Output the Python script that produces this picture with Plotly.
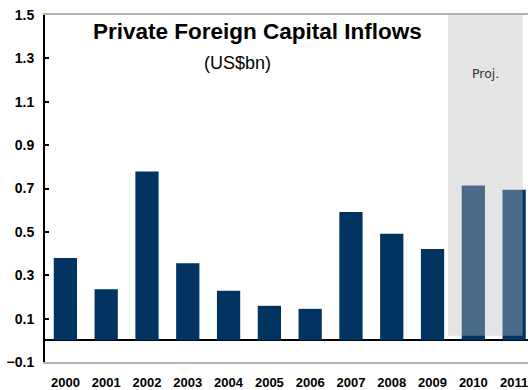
import plotly.graph_objects as go

# Private foreign capital inflows, US$bn (2010-2011 are projections)
years = [2000, 2001, 2002, 2003, 2004, 2005, 2006, 2007, 2008, 2009, 2010, 2011]
inflows = [0.38, 0.236, 0.778, 0.355, 0.229, 0.159, 0.145, 0.592, 0.491, 0.421, 0.714, 0.694]
y_ticks = [-0.1, 0.1, 0.3, 0.5, 0.7, 0.9, 1.1, 1.3, 1.5]
tick_labels = [str(y) for y in years]

NAVY = "#00335f"
SHADE = "#e5e5e5"
FONT = "Liberation Sans, Arial, sans-serif"

fig = go.Figure()
fig.add_trace(go.Bar(
    x=years, y=inflows, width=0.57,
    marker=dict(color=NAVY, line=dict(width=0)),
))

# projection band: solid gray behind, translucent veil over the bars
proj = dict(type="rect", xref="x", yref="y", x0=2009.38, x1=2011.21, y0=0.021, y1=1.5, line=dict(width=0))
fig.add_shape(**proj, fillcolor=SHADE, layer="below")
fig.add_shape(**proj, fillcolor="rgba(229,229,229,0.32)", layer="above")

fig.add_annotation(text="<b>Private Foreign Capital Inflows</b>", xref="paper", yref="paper",
                   x=0.439, y=0.952, showarrow=False, xanchor="center", yanchor="middle",
                   font=dict(family=FONT, size=22.5, color="#000"))
fig.add_annotation(text="(US$bn)", xref="paper", yref="paper",
                   x=0.3986, y=0.862, showarrow=False, xanchor="center", yanchor="middle",
                   font=dict(family=FONT, size=18, color="#000"))
fig.add_annotation(text="Proj.", xref="paper", yref="paper",
                   x=0.913, y=0.830, showarrow=False, xanchor="center", yanchor="middle",
                   font=dict(family="DejaVu Sans, Verdana, sans-serif", size=12.5, color="#333"))

fig.update_layout(
    width=528, height=390,
    margin=dict(l=45, r=0, t=15, b=28),
    paper_bgcolor="white", plot_bgcolor="white",
    showlegend=False,
    xaxis=dict(
        range=[1999.5, 2011.34], tickvals=years, ticktext=tick_labels,
        showgrid=False, zeroline=False, ticks="",
        showline=True, linecolor="#b3b3b3", linewidth=1.5, mirror=True,
        tickfont=dict(family=FONT, size=13, color="#000", weight="bold"),
        ticklabelstandoff=8, ticklabeloverflow="allow",
    ),
    yaxis=dict(
        range=[-0.1, 1.5], tickvals=y_ticks, tickformat=".1f",
        showgrid=False, zeroline=True, zerolinecolor="#000", zerolinewidth=1.5,
        showline=True, linecolor="#000", linewidth=2,
        ticks="inside", ticklen=4, tickcolor="#000", tickwidth=1.5,
        tickfont=dict(family=FONT, size=14, color="#000", weight="bold"),
        ticklabelstandoff=6,
    ),
)

fig.write_html("out.html")
